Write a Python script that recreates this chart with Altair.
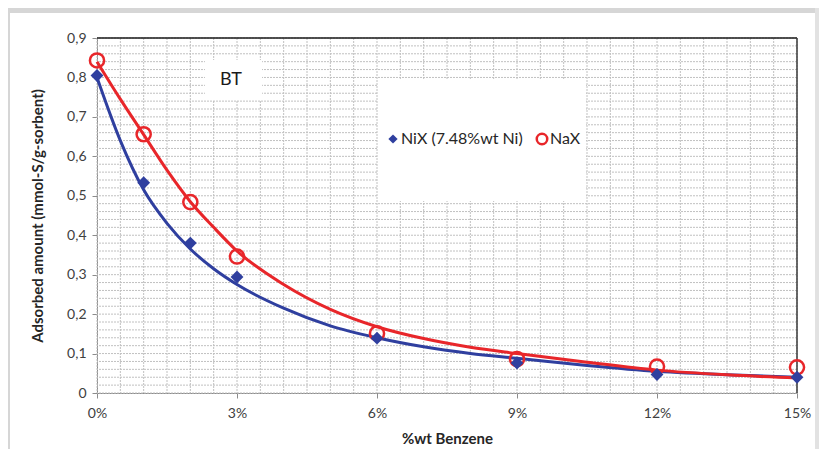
import altair as alt
import pandas as pd
import numpy as np

# ---- data ----
x_pct = [0, 1, 2, 3, 6, 9, 12, 15]
nix_pts = [0.805, 0.533, 0.380, 0.294, 0.139, 0.076, 0.047, 0.040]
nax_pts = [0.843, 0.656, 0.484, 0.346, 0.151, 0.086, 0.067, 0.065]

curve_x = [0, 0.5, 1, 1.5, 2, 2.5, 3, 4, 5, 6, 7, 8, 9, 10.5, 12, 13.5, 15]
nix_curve = [0.800, 0.640, 0.515, 0.430, 0.365, 0.315, 0.275, 0.215, 0.170, 0.140,
             0.117, 0.100, 0.088, 0.070, 0.055, 0.046, 0.040]
nax_curve = [0.840, 0.745, 0.655, 0.565, 0.485, 0.420, 0.360, 0.275, 0.212, 0.168,
             0.138, 0.116, 0.100, 0.078, 0.058, 0.046, 0.038]

x_ticks = [0, 3, 6, 9, 12, 15]
y_ticks = [0, 0.1, 0.2, 0.3, 0.4, 0.5, 0.6, 0.7, 0.8, 0.9]
grid_x = list(np.round(np.arange(0, 15.001, 0.5), 3))
grid_y = list(np.round(np.arange(0, 0.9001, 0.02), 3))

series_names = ["NiX (7.48%wt Ni)", "NaX"]
BLUE = "#2f3f9f"
RED = "#e8262a"
FONT = "Lato"

W, H = 700, 355

xs = alt.Scale(domain=[0, 15], nice=False, zero=False)
ys = alt.Scale(domain=[0, 0.9], nice=False)

x_axis = alt.Axis(values=x_ticks, labelExpr="datum.value + '%'", grid=False,
                  title="%wt Benzene", titleFontWeight="bold", titleFontSize=15,
                  titleFont=FONT, titleColor="#262626", titlePadding=11,
                  labelFont=FONT, labelFontSize=14, labelColor="#404040",
                  labelFlush=False, labelPadding=8, tickSize=5,
                  tickColor="#8c8c8c", domainColor="#8c8c8c")
y_axis = alt.Axis(values=y_ticks,
                  labelExpr="datum.value == 0 ? '0' : replace(format(datum.value, '.1f'), '.', ',')",
                  grid=False, title="Adsorbed amount  (mmol-S/g-sorbent)",
                  titleFontWeight="bold", titleFontSize=15, titleFont=FONT,
                  titleColor="#262626", titlePadding=21,
                  labelFont=FONT, labelFontSize=14, labelColor="#404040",
                  labelFlush=False, labelPadding=6, tickSize=5,
                  tickColor="#8c8c8c", domainColor="#8c8c8c")

one = pd.DataFrame({"a": [0]})

# outer light gray frame (decoration)
frame = alt.Chart(one).mark_rect(color="#d6d6d6").encode(
    x=alt.value(-89), x2=alt.value(722), y=alt.value(-30), y2=alt.value(-25))
frame_l = alt.Chart(one).mark_rect(color="#d6d6d6").encode(
    x=alt.value(-89), x2=alt.value(-87), y=alt.value(-30), y2=alt.value(411))
frame_r = alt.Chart(one).mark_rect(color="#e2e2e2").encode(
    x=alt.value(718), x2=alt.value(722), y=alt.value(-30), y2=alt.value(411))

# grid
gx = alt.Chart(pd.DataFrame({"g": grid_x})).mark_rule(
    color="#c0c0c0", strokeDash=[2, 1], strokeWidth=1).encode(
    x=alt.X("g:Q", scale=xs, axis=x_axis))
gy = alt.Chart(pd.DataFrame({"g": grid_y})).mark_rule(
    color="#c0c0c0", strokeDash=[2, 1], strokeWidth=1).encode(
    y=alt.Y("g:Q", scale=ys, axis=y_axis))

# top / right border of plot area
border = pd.DataFrame({"x0": [0], "x1": [15], "y0": [0.9], "y1": [0.0]})
top_b = alt.Chart(border).mark_rule(color="#1a1a1a", strokeWidth=1.5).encode(
    x=alt.X("x0:Q", scale=xs, axis=x_axis), x2="x1:Q",
    y=alt.Y("y0:Q", scale=ys, axis=y_axis))
right_b = alt.Chart(border).mark_rule(color="#3a3a3a", strokeWidth=1.5).encode(
    x=alt.X("x1:Q", scale=xs, axis=x_axis),
    y=alt.Y("y0:Q", scale=ys, axis=y_axis), y2="y1:Q")

# white boxes
bt_box = alt.Chart(one).mark_rect(color="white").encode(
    x=alt.value(108), x2=alt.value(165), y=alt.value(22), y2=alt.value(62))
leg_box = alt.Chart(one).mark_rect(color="white").encode(
    x=alt.value(281), x2=alt.value(489), y=alt.value(41), y2=alt.value(163))

# curves
curves = pd.DataFrame({
    "x": curve_x + curve_x,
    "y": nix_curve + nax_curve,
    "s": [series_names[0]] * len(curve_x) + [series_names[1]] * len(curve_x),
})
cscale = alt.Scale(domain=series_names, range=[BLUE, RED])
lines = alt.Chart(curves).mark_line(interpolate="monotone", strokeWidth=3).encode(
    x=alt.X("x:Q", scale=xs, axis=x_axis),
    y=alt.Y("y:Q", scale=ys, axis=y_axis),
    color=alt.Color("s:N", scale=cscale, legend=None),
    order=alt.Order("x:Q"),
    detail="s:N")

pts_nix = alt.Chart(pd.DataFrame({"x": x_pct, "y": nix_pts})).mark_point(
    shape="diamond", filled=True, color=BLUE, size=165, opacity=1).encode(
    x=alt.X("x:Q", scale=xs, axis=x_axis), y=alt.Y("y:Q", scale=ys, axis=y_axis))
pts_nax = alt.Chart(pd.DataFrame({"x": x_pct, "y": nax_pts})).mark_point(
    shape="circle", filled=False, color=RED, size=200, strokeWidth=2.5, opacity=1).encode(
    x=alt.X("x:Q", scale=xs, axis=x_axis), y=alt.Y("y:Q", scale=ys, axis=y_axis))

# texts
bt_text = alt.Chart(one).mark_text(font=FONT, fontSize=18, color="#1a1a1a",
                                   align="center", baseline="middle").encode(
    x=alt.value(134), y=alt.value(42), text=alt.value("BT"))
leg_d = alt.Chart(one).mark_point(shape="diamond", filled=True, color=BLUE,
                                  size=85, opacity=1).encode(
    x=alt.value(296), y=alt.value(101))
leg_t1 = alt.Chart(one).mark_text(font=FONT, fontSize=16, color="#262626",
                                  align="left", baseline="middle").encode(
    x=alt.value(304), y=alt.value(101), text=alt.value(series_names[0]))
leg_c = alt.Chart(one).mark_point(shape="circle", filled=False, color=RED,
                                  size=110, strokeWidth=2.5, opacity=1).encode(
    x=alt.value(445), y=alt.value(101))
leg_t2 = alt.Chart(one).mark_text(font=FONT, fontSize=16, color="#262626",
                                  align="left", baseline="middle").encode(
    x=alt.value(453), y=alt.value(101), text=alt.value(series_names[1]))

chart = alt.layer(
    frame, frame_l, frame_r, gx, gy, bt_box, leg_box, top_b, right_b,
    lines, pts_nax, pts_nix, bt_text, leg_d, leg_t1, leg_c, leg_t2
).properties(
    width=W, height=H,
    autosize=alt.AutoSizeParams(type="none"),
    padding={"left": 89, "top": 30, "right": 22, "bottom": 56},
    background="white",
).configure_view(strokeWidth=0)

chart.save("out.html", embed_options={"renderer": "svg", "actions": False})
